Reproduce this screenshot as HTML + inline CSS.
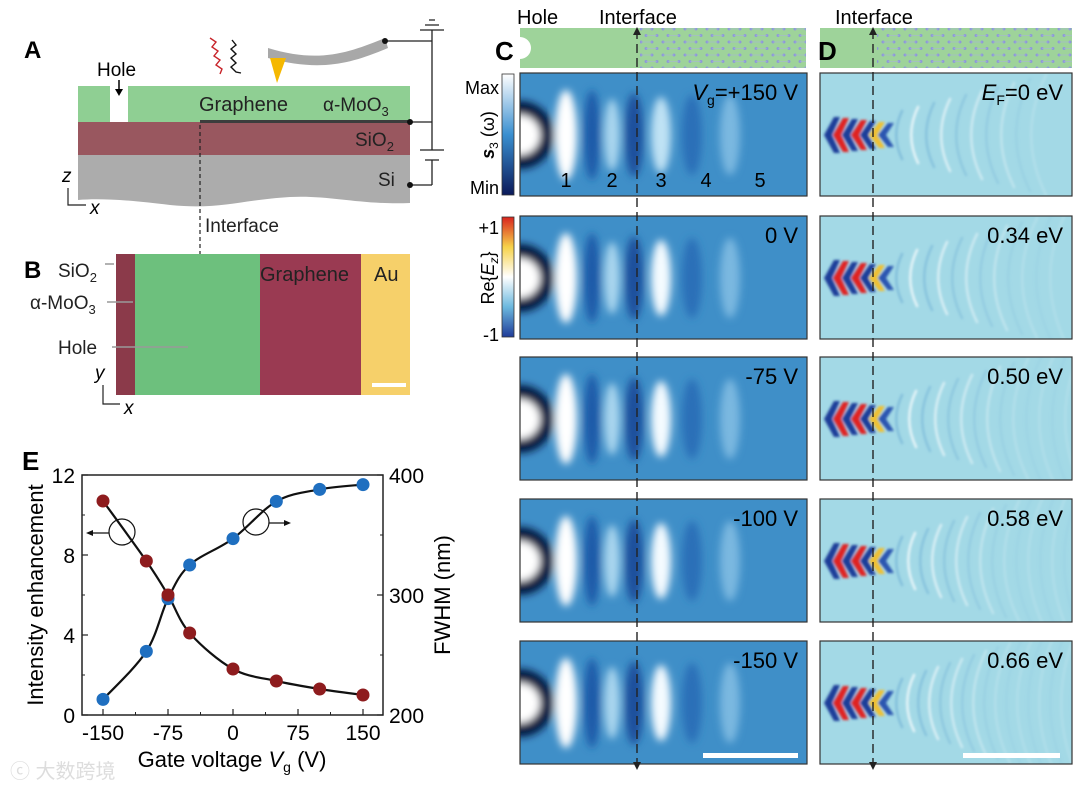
<!DOCTYPE html>
<html><head><meta charset="utf-8"><style>
html,body{margin:0;padding:0;background:#fff}
svg{display:block;font-family:"Liberation Sans",Arial,sans-serif}
</style></head><body>
<svg id="fig" width="1080" height="786" viewBox="0 0 1080 786">
<defs>
<filter id="blur" x="-20%" y="-20%" width="140%" height="140%"><feGaussianBlur stdDeviation="4"/></filter>
<filter id="blur2"><feGaussianBlur stdDeviation="1.4"/></filter>
<linearGradient id="cbS" x1="0" y1="0" x2="0" y2="1"><stop offset="0" stop-color="#fff"/><stop offset="0.5" stop-color="#3a8fd0"/><stop offset="1" stop-color="#0b1a5a"/></linearGradient>
<linearGradient id="cbE" x1="0" y1="0" x2="0" y2="1"><stop offset="0" stop-color="#d8231e"/><stop offset="0.25" stop-color="#f6d24a"/><stop offset="0.5" stop-color="#ffffff"/><stop offset="0.75" stop-color="#6cb8de"/><stop offset="1" stop-color="#1f3c99"/></linearGradient>
<pattern id="hex" width="22" height="13" patternUnits="userSpaceOnUse"><circle cx="3" cy="3" r="1.5" fill="#8d9ad8"/><circle cx="14" cy="3" r="1.5" fill="#8d9ad8"/><circle cx="8" cy="9.5" r="1.5" fill="#8d9ad8"/><circle cx="19" cy="9.5" r="1.5" fill="#8d9ad8"/><path d="M3 3H14M8 9.5H19" stroke="#a7b0e0" stroke-width="0.6"/></pattern>
<clipPath id="clC"><rect x="0" y="0" width="287" height="123"/></clipPath>
<clipPath id="clD"><rect x="0" y="0" width="252" height="123"/></clipPath>
</defs>

<!-- Panel A -->
<g>
<text x="24" y="58" font-size="24" font-weight="bold">A</text>
<rect x="78" y="86" width="332" height="36" fill="#8fcf93"/>
<rect x="110" y="86" width="18" height="37" fill="#fff"/>
<text x="97" y="76" font-size="19">Hole</text>
<path d="M119 80V92" stroke="#000" stroke-width="1.5"/><path d="M115 89L119 96L123 89Z" fill="#000"/>
<rect x="78" y="122" width="332" height="33" fill="#99575f"/>
<path d="M78 155H410V203C360 205 330 195 290 197C240 200 220 210 170 205C130 200 100 198 78 200Z" fill="#acacac"/>
<rect x="200" y="120" width="210" height="3" fill="#3d3d3d"/>
<text x="199" y="111" font-size="20" fill="#222">Graphene</text>
<text x="323" y="111" font-size="19" fill="#222">α-MoO<tspan font-size="13" dy="5">3</tspan></text>
<text x="355" y="146" font-size="19" fill="#222">SiO<tspan font-size="13" dy="5">2</tspan></text>
<text x="378" y="186" font-size="19" fill="#222">Si</text>
<path d="M268 48C320 64 350 52 385 38L388 48C350 64 320 72 268 58Z" fill="#a8a8a8"/>
<path d="M270 58L286 58L277 83Z" fill="#f5b800"/>
<path d="M210 38l6 4 -4 5 6 4 -4 5 6 4 -4 5 6 4 -2 5" stroke="#c8242a" fill="none" stroke-width="1.4"/>
<path d="M232 40l4 5 -5 4 5 5 -5 4 5 5 -5 4 5 5 5 1" stroke="#111" fill="none" stroke-width="1.4"/>
<path d="M385 41H432M410 122H432M410 185H432M432 30V150M432 160V185M420 30H444M425 25H439M429 20H435M420 150H444M425 160H439" stroke="#222" stroke-width="1.3" fill="none"/>
<circle cx="385" cy="41" r="3" fill="#111"/><circle cx="410" cy="122" r="3" fill="#111"/><circle cx="410" cy="185" r="3" fill="#111"/>
<path d="M200 125V254" stroke="#222" stroke-width="1.2" stroke-dasharray="4,3"/>
<text x="205" y="232" font-size="19" fill="#222">Interface</text>
<text x="62" y="182" font-size="19" font-style="italic">z</text>
<path d="M68 188V205H86" stroke="#222" fill="none" stroke-width="1.2"/>
<text x="90" y="214" font-size="19" font-style="italic">x</text>
</g>

<!-- Panel B -->
<g>
<text x="24" y="278" font-size="24" font-weight="bold">B</text>
<rect x="116" y="254" width="20" height="141" fill="#8b3a4a"/>
<rect x="135" y="254" width="125" height="141" fill="#6dc07d"/>
<rect x="260" y="254" width="102" height="141" fill="#9a3a52"/>
<rect x="361" y="254" width="49" height="141" fill="#f6d06a"/>
<rect x="372" y="383" width="34" height="4" fill="#fff"/>
<text x="260" y="281" font-size="20" fill="#222">Graphene</text>
<text x="374" y="281" font-size="20" fill="#222">Au</text>
<text x="58" y="277" font-size="19" fill="#222">SiO<tspan font-size="13" dy="5">2</tspan></text>
<text x="30" y="309" font-size="19" fill="#222">α-MoO<tspan font-size="13" dy="5">3</tspan></text>
<text x="58" y="354" font-size="19" fill="#222">Hole</text>
<path d="M105 264H114M107 302H133M112 347H188" stroke="#999" stroke-width="1.5"/>
<text x="95" y="379" font-size="19" font-style="italic">y</text>
<path d="M103 385V404H120" stroke="#222" fill="none" stroke-width="1.2"/>
<text x="124" y="414" font-size="19" font-style="italic">x</text>
</g>

<!-- Panel C/D headers -->
<g>
<text x="517" y="24" font-size="20">Hole</text>
<text x="599" y="24" font-size="20">Interface</text>
<rect x="520" y="28" width="286" height="40" fill="#9ed39a"/>
<rect x="640" y="28" width="166" height="40" fill="url(#hex)"/>
<circle cx="520" cy="48" r="11" fill="#fff"/>
<text x="495" y="60" font-size="26" font-weight="bold">C</text>
<text x="835" y="24" font-size="20">Interface</text>
<rect x="820" y="28" width="252" height="40" fill="#9ed39a"/>
<rect x="877" y="28" width="195" height="40" fill="url(#hex)"/>
<text x="818" y="60" font-size="26" font-weight="bold">D</text>
</g>

<!-- colorbars -->
<g>
<rect x="502" y="74" width="12" height="121" fill="url(#cbS)" stroke="#333" stroke-width="0.8"/>
<text x="499" y="94" font-size="18" text-anchor="end">Max</text>
<text x="499" y="194" font-size="18" text-anchor="end">Min</text>
<text transform="translate(494,135) rotate(-90)" font-size="18" text-anchor="middle"><tspan font-weight="bold" font-style="italic">s</tspan><tspan font-size="12" dy="4">3</tspan><tspan dy="-4"> (ω)</tspan></text>
<rect x="502" y="217" width="12" height="120" fill="url(#cbE)" stroke="#333" stroke-width="0.8"/>
<text x="499" y="234" font-size="18" text-anchor="end">+1</text>
<text x="499" y="341" font-size="18" text-anchor="end">-1</text>
<text transform="translate(494,278) rotate(-90)" font-size="18" text-anchor="middle">Re{<tspan font-style="italic">E</tspan><tspan font-size="12" dy="4" font-style="italic">z</tspan><tspan dy="-4">}</tspan></text>
</g>

<g id="cpanels"></g>
<g id="dpanels"></g>
<path d="M637 30V770" stroke="#222" stroke-width="1.4" stroke-dasharray="9,5"/>
<path d="M633 35L637 27L641 35Z M633 762L637 770L641 762Z" fill="#222"/>
<path d="M873 30V770" stroke="#222" stroke-width="1.4" stroke-dasharray="9,5"/>
<path d="M869 35L873 27L877 35Z M869 762L873 770L877 762Z" fill="#222"/>

<!-- Panel E -->
<g id="chartE">
<text x="22" y="470" font-size="26" font-weight="bold">E</text>
</g>
<text x="10" y="778" font-size="20" fill="#ddd" font-family="'Liberation Sans','Noto Sans CJK SC',sans-serif">ⓒ 大数跨境</text>
</svg>
<script>
var NS="http://www.w3.org/2000/svg";
function mk(p,t,a){var e=document.createElementNS(NS,t);for(var k in a)e.setAttribute(k,a[k]);p.appendChild(e);return e;}
// Panel E data
var voltages=[-150,-100,-75,-50,0,50,100,150];
var intensity=[10.7,7.7,6.0,4.1,2.3,1.7,1.3,1.0];
var fwhm=[213,253,297,325,347,378,388,392];
var xTicks=[-150,-75,0,75,150];
var yLeftTicks=[0,4,8,12];
var yRightTicks=[200,300,400];
var L=82,R=383,T=475,B=715;
function sx(v){return 103+(v+150)/300*260;}
function syL(v){return B-v/12*(B-T);}
function syR(v){return B-(v-200)/200*(B-T);}
var g=document.getElementById('chartE');
var frame=mk(g,'rect',{x:L,y:T,width:R-L,height:B-T,fill:'none',stroke:'#222','stroke-width':1.5});


xTicks.forEach(function(v){mk(g,'line',{x1:sx(v),x2:sx(v),y1:B,y2:B-6,stroke:'#222','stroke-width':1.2});
 var t=mk(g,'text',{x:sx(v),y:B+25,'font-size':21,'text-anchor':'middle'});t.textContent=v;
 
 });
[-112.5,-37.5,37.5,112.5].forEach(function(v){mk(g,'line',{x1:sx(v),x2:sx(v),y1:B,y2:B-3,stroke:'#222'});});
yLeftTicks.forEach(function(v){mk(g,'line',{x1:L,x2:L+6,y1:syL(v),y2:syL(v),stroke:'#222','stroke-width':1.2});
 var t=mk(g,'text',{x:L-7,y:syL(v)+8,'font-size':21,'text-anchor':'end'});t.textContent=v;
 
 });
yRightTicks.forEach(function(v){mk(g,'line',{x1:R,x2:R-6,y1:syR(v),y2:syR(v),stroke:'#222','stroke-width':1.2});
 var t=mk(g,'text',{x:R+6,y:syR(v)+8,'font-size':21});t.textContent=v;
 
 });
[250,350].forEach(function(v){mk(g,'line',{x1:R,x2:R-3,y1:syR(v),y2:syR(v),stroke:'#222'});});
[2,6,10].forEach(function(v){mk(g,'line',{x1:L,x2:L+3,y1:syL(v),y2:syL(v),stroke:'#222'});});
var xl=mk(g,'text',{x:232,y:767,'font-size':22,'text-anchor':'middle'});xl.innerHTML='Gate voltage <tspan font-style="italic">V</tspan><tspan font-size="14" dy="5">g</tspan><tspan dy="-5"> (V)</tspan>';


var yl=mk(g,'text',{transform:'translate(43,595) rotate(-90)','font-size':22,'text-anchor':'middle'});yl.textContent='Intensity enhancement';


var yr=mk(g,'text',{transform:'translate(450,595) rotate(-90)','font-size':22,'text-anchor':'middle'});yr.textContent='FWHM (nm)';


function spline(pts){var d='M'+pts[0][0]+' '+pts[0][1];for(var i=0;i<pts.length-1;i++){var p0=pts[i-1]||pts[i],p1=pts[i],p2=pts[i+1],p3=pts[i+2]||p2;
 d+='C'+(p1[0]+(p2[0]-p0[0])/6)+' '+(p1[1]+(p2[1]-p0[1])/6)+' '+(p2[0]-(p3[0]-p1[0])/6)+' '+(p2[1]-(p3[1]-p1[1])/6)+' '+p2[0]+' '+p2[1];}return d;}
var pI=voltages.map(function(v,i){return [sx(v),syL(intensity[i])];});
var pF=voltages.map(function(v,i){return [sx(v),syR(fwhm[i])];});
var l1=mk(g,'path',{d:spline(pI),fill:'none',stroke:'#111','stroke-width':2.2});


var l2=mk(g,'path',{d:spline(pF),fill:'none',stroke:'#111','stroke-width':2.2});


pF.forEach(function(p){var c=mk(g,'circle',{cx:p[0],cy:p[1],r:6.5,fill:'#1f6fc0'});
 
 });
pI.forEach(function(p){var c=mk(g,'circle',{cx:p[0],cy:p[1],r:6.5,fill:'#8e1c1e'});
 
 });
mk(g,'circle',{cx:122,cy:532,r:13,fill:'none',stroke:'#111','stroke-width':1.2});
mk(g,'path',{d:'M109 533H90',stroke:'#111','stroke-width':1.3});
mk(g,'path',{d:'M86 533L93 530V536Z',fill:'#111'});
mk(g,'circle',{cx:256,cy:522,r:13,fill:'none',stroke:'#111','stroke-width':1.2});
mk(g,'path',{d:'M269 523H287',stroke:'#111','stroke-width':1.3});
mk(g,'path',{d:'M291 523L284 520V526Z',fill:'#111'});

// Panel C images
var cRowsY=[73,216,357,499,641];
var cLabels=['+150 V','0 V','-75 V','-100 V','-150 V'];
var cp=document.getElementById('cpanels');
cRowsY.forEach(function(y,i){
 var gg=mk(cp,'g',{transform:'translate(520,'+y+')'});
 
 
 var inner=mk(gg,'g',{'clip-path':'url(#clC)'});
 mk(inner,'rect',{x:0,y:0,width:287,height:123,fill:'#3f8fc8'});
 var f=mk(inner,'g',{filter:'url(#blur)'});
 mk(f,'circle',{cx:0,cy:62,r:34,fill:'#06143c'});
 mk(f,'circle',{cx:0,cy:62,r:20,fill:'#fff'});
 mk(f,'ellipse',{cx:46,cy:62,rx:11,ry:45,fill:'#fff'});
 mk(f,'ellipse',{cx:72,cy:62,rx:8,ry:45,fill:'#1b5aa8'});
 mk(f,'ellipse',{cx:92,cy:62,rx:8,ry:36,fill:'#a9d5ee'});
 mk(f,'ellipse',{cx:114,cy:62,rx:9,ry:42,fill:'#1a4f9c'});
 mk(f,'ellipse',{cx:141,cy:62,rx:10,ry:38,fill:i==0?'#bfe2f4':'#f4fbff'});
 mk(f,'ellipse',{cx:172,cy:62,rx:10,ry:40,fill:'#2a70b8'});
 mk(f,'ellipse',{cx:210,cy:62,rx:10,ry:40,fill:'#7ab8e0'});
 mk(gg,'rect',{x:0,y:0,width:287,height:123,fill:'none',stroke:'#333','stroke-width':1.2});
 var t=mk(gg,'text',{x:278,y:27,'font-size':22,'text-anchor':'end'});
 t.innerHTML=i==0?'<tspan font-style="italic">V</tspan><tspan font-size="14" dy="5">g</tspan><tspan dy="-5">=+150 V</tspan>':cLabels[i];
 
 
 if(i==0){['1','2','3','4','5'].forEach(function(s,k){var n=mk(gg,'text',{x:[46,92,141,186,240][k],y:114,'font-size':20,'text-anchor':'middle'});n.textContent=s;
  
  });}
 if(i==4){mk(gg,'rect',{x:183,y:112,width:95,height:5,fill:'#fff'});}
});
// Panel D images
var dLabels=['0 eV','0.34 eV','0.50 eV','0.58 eV','0.66 eV'];
var dp=document.getElementById('dpanels');
cRowsY.forEach(function(y,i){
 var gg=mk(dp,'g',{transform:'translate(820,'+y+')'});
 
 
 var inner=mk(gg,'g',{'clip-path':'url(#clD)'});
 mk(inner,'rect',{x:0,y:0,width:252,height:123,fill:'#a3d9e6'});
 var f=mk(inner,'g',{filter:'url(#blur2)'});
 for(var k=0;k<10+i*2;k++){var x=70+k*(14-i);var h=25+k*4;
  mk(f,'path',{d:'M'+(x+h*0.5)+' '+(62-h)+'Q'+x+' 62 '+(x+h*0.5)+' '+(62+h),fill:'none',stroke:k%2?'#ffffff':'#7ab8d8','stroke-width':2.2,opacity:Math.max(0.15,0.9-k*0.08)});}
 var cols=['#1f3c99','#e02020','#1f3c99','#e02020','#1f3c99','#f0c030','#2a55b0'];
 for(var k=0;k<7;k++){var x=4+k*9;var h=18-k;
  mk(f,'path',{d:'M'+(x+10)+' '+(62-h)+'L'+x+' 62L'+(x+10)+' '+(62+h)+'L'+(x+16)+' '+(62+h)+'L'+(x+8)+' 62L'+(x+16)+' '+(62-h)+'Z',fill:cols[k]});}
 mk(gg,'rect',{x:0,y:0,width:252,height:123,fill:'none',stroke:'#333','stroke-width':1.2});
 var t=mk(gg,'text',{x:243,y:27,'font-size':22,'text-anchor':'end'});
 t.innerHTML=i==0?'<tspan font-style="italic">E</tspan><tspan font-size="14" dy="5">F</tspan><tspan dy="-5">=0 eV</tspan>':dLabels[i];
 
 
 if(i==4){mk(gg,'rect',{x:143,y:112,width:97,height:5,fill:'#fff'});}
});
</script>
</body></html>
